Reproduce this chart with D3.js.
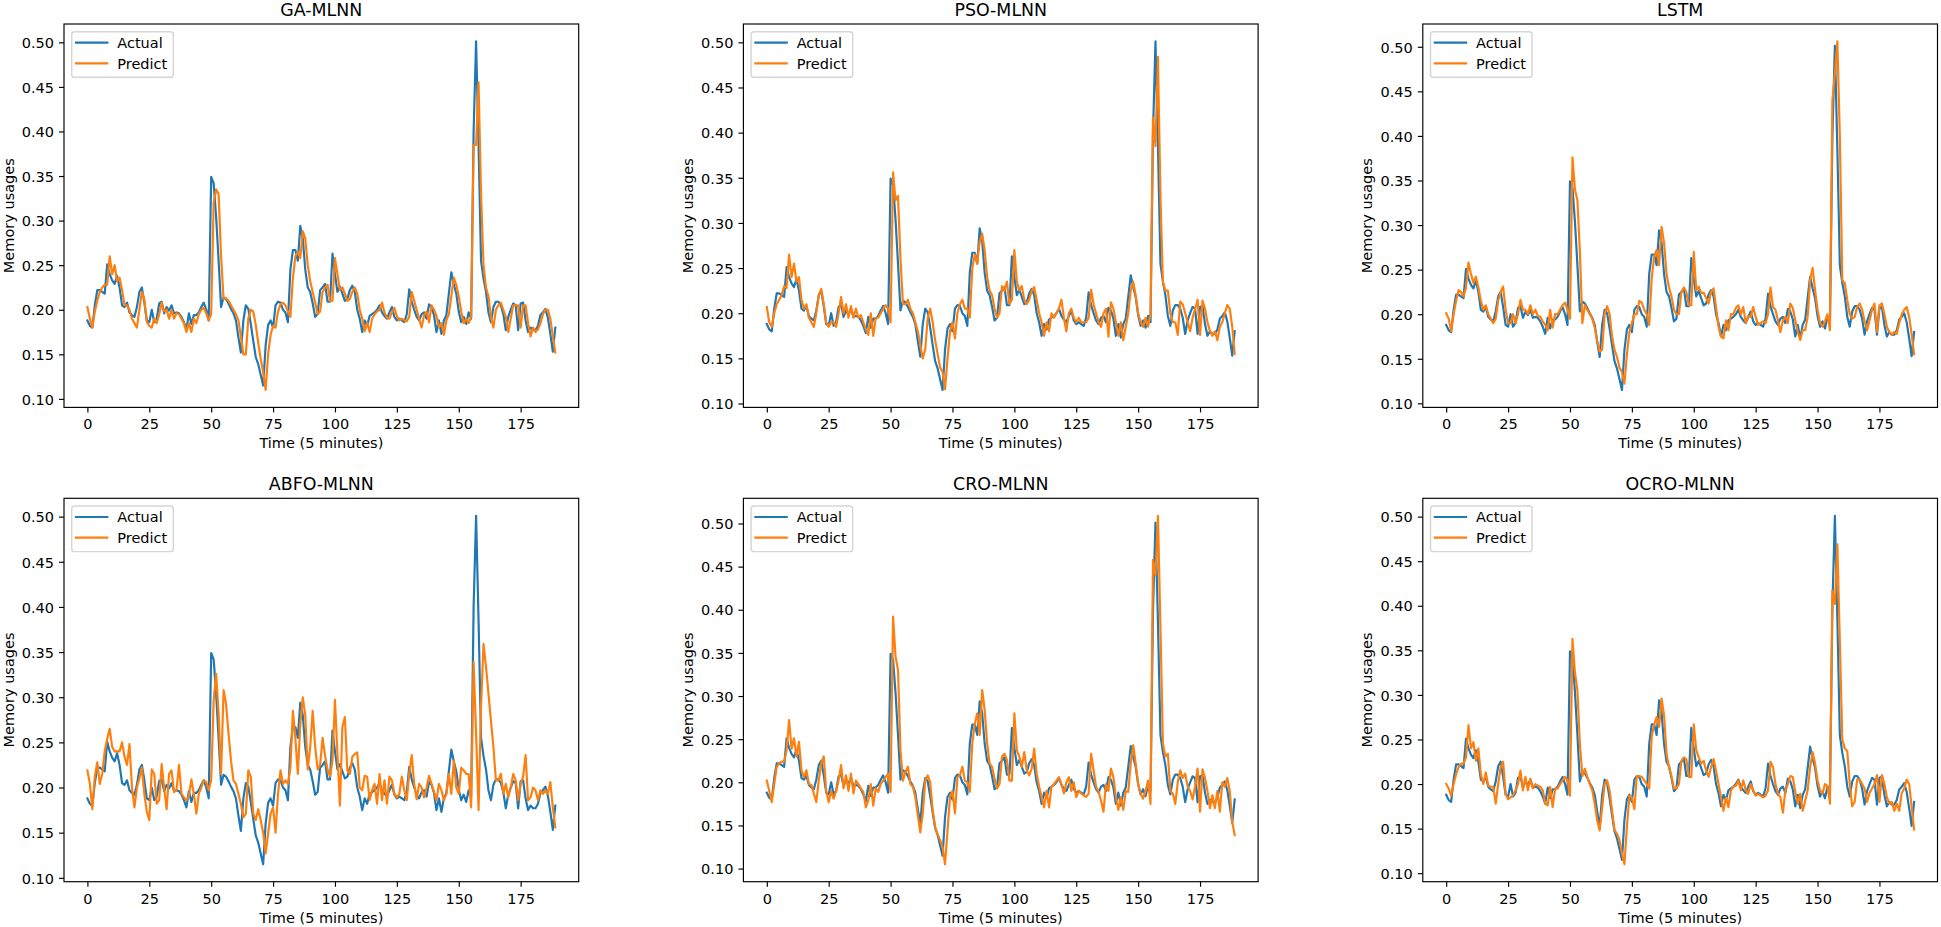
<!DOCTYPE html>
<html><head><meta charset="utf-8">
<script src="https://cdn.jsdelivr.net/npm/d3@7/dist/d3.min.js"></script>
<style>
body{margin:0;background:#fff}
svg{display:block}
text{font-family:"DejaVu Sans",sans-serif;fill:#000}
</style>
</head><body>
<script>
// ---------- data ----------
const actual=[
.188,.182,.180,.205,.222,.222,.220,.218,.251,.240,
.233,.229,.238,.225,.205,.203,.208,.197,.194,.192,
.203,.220,.225,.208,.188,.186,.200,.186,.190,.207,
.209,.196,.203,.199,.205,.196,.197,.196,.192,.186,
.178,.196,.184,.194,.194,.197,.203,.208,.200,.188,
.349,.342,.304,.255,.203,.214,.212,.207,.201,.196,
.188,.169,.152,.188,.205,.201,.184,.165,.147,.139,
.127,.115,.160,.183,.188,.180,.205,.209,.208,.200,
.197,.186,.245,.267,.267,.255,.294,.280,.245,.225,
.220,.207,.192,.195,.222,.225,.229,.209,.209,.263,
.240,.220,.226,.218,.210,.212,.222,.227,.220,.200,
.190,.175,.188,.182,.193,.195,.197,.200,.205,.197,
.193,.190,.197,.203,.192,.188,.190,.188,.186,.195,
.223,.209,.200,.192,.188,.195,.197,.190,.206,.203,
.194,.175,.188,.173,.188,.194,.218,.242,.229,.218,
.198,.186,.192,.184,.197,.190,.400,.501,.385,.255,
.235,.220,.197,.186,.203,.209,.209,.205,.195,.177,
.192,.200,.207,.205,.177,.207,.208,.188,.175,.180,
.177,.177,.182,.194,.197,.201,.191,.173,.153,.180];

const gaPredict=[
.203,.190,.180,.198,.210,.220,.225,.228,.228,.260,
.240,.250,.232,.236,.222,.205,.205,.200,.190,.185,
.180,.200,.220,.212,.186,.182,.180,.190,.185,.195,
.208,.198,.200,.190,.200,.190,.196,.195,.190,.185,
.175,.185,.175,.190,.185,.195,.200,.202,.196,.188,
.195,.320,.335,.330,.260,.212,.213,.210,.205,.200,
.195,.188,.170,.150,.150,.190,.200,.198,.183,.163,
.145,.130,.110,.150,.172,.182,.180,.198,.206,.208,
.205,.198,.192,.235,.260,.265,.258,.288,.280,.250,
.232,.220,.208,.195,.198,.220,.225,.228,.210,.210,
.258,.240,.222,.225,.218,.210,.212,.220,.225,.218,
.200,.190,.176,.185,.175,.190,.195,.198,.200,.208,
.197,.191,.190,.197,.202,.193,.188,.190,.188,.187,
.192,.220,.210,.200,.190,.180,.194,.198,.186,.205,
.200,.193,.180,.185,.172,.188,.195,.215,.236,.228,
.215,.198,.185,.190,.185,.192,.385,.385,.455,.330,
.250,.225,.215,.192,.180,.200,.205,.208,.200,.192,
.175,.190,.205,.205,.205,.180,.205,.205,.185,.170,
.180,.175,.178,.185,.195,.200,.200,.190,.170,.152];

const psoPredict=[
.207,.190,.185,.200,.210,.215,.220,.230,.228,.265,
.240,.255,.235,.240,.215,.205,.210,.195,.190,.185,
.200,.220,.227,.210,.190,.185,.190,.190,.185,.200,
.218,.200,.210,.195,.208,.195,.205,.195,.198,.190,
.182,.176,.200,.175,.195,.195,.200,.205,.209,.205,
.190,.356,.325,.330,.260,.210,.210,.215,.205,.200,
.190,.180,.165,.150,.160,.195,.205,.190,.170,.155,
.140,.135,.116,.150,.180,.190,.172,.200,.210,.215,
.205,.205,.195,.250,.265,.255,.279,.288,.270,.240,
.225,.220,.205,.195,.200,.230,.225,.235,.210,.215,
.270,.235,.225,.230,.215,.210,.215,.225,.229,.215,
.200,.190,.175,.190,.180,.200,.195,.200,.205,.215,
.195,.180,.200,.205,.195,.190,.195,.190,.190,.190,
.195,.226,.210,.200,.190,.185,.200,.205,.174,.212,
.205,.190,.175,.190,.170,.185,.200,.225,.235,.220,
.200,.190,.185,.195,.185,.200,.417,.385,.484,.330,
.235,.225,.225,.200,.190,.190,.176,.213,.210,.200,
.190,.180,.195,.205,.215,.176,.214,.205,.190,.180,
.175,.180,.170,.185,.190,.200,.209,.205,.185,.155];

const lstmPredict=[
.201,.195,.181,.200,.215,.227,.225,.220,.230,.258,
.245,.235,.242,.230,.215,.205,.210,.200,.195,.190,
.195,.215,.225,.231,.205,.190,.190,.200,.190,.200,
.216,.205,.205,.200,.210,.200,.205,.198,.197,.192,
.188,.182,.205,.185,.200,.200,.205,.210,.213,.205,
.195,.376,.340,.328,.270,.190,.210,.205,.200,.195,
.185,.170,.158,.160,.200,.209,.200,.175,.160,.152,
.140,.135,.122,.155,.180,.190,.200,.200,.215,.213,
.205,.200,.188,.240,.265,.272,.255,.298,.280,.245,
.230,.220,.205,.200,.200,.225,.230,.225,.210,.210,
.270,.227,.231,.224,.224,.218,.212,.225,.229,.208,
.186,.175,.173,.193,.182,.200,.200,.207,.210,.200,
.208,.190,.198,.197,.208,.197,.188,.190,.192,.190,
.200,.230,.208,.205,.193,.180,.193,.197,.190,.212,
.207,.193,.180,.171,.182,.182,.197,.238,.252,.227,
.205,.190,.186,.192,.200,.182,.440,.470,.506,.400,
.238,.235,.216,.200,.195,.197,.208,.212,.205,.192,
.182,.193,.205,.212,.180,.210,.212,.200,.186,.180,
.177,.180,.178,.190,.200,.205,.208,.197,.178,.155];

const abfoPredict=[
.219,.204,.176,.212,.228,.204,.215,.240,.254,.265,
.245,.240,.240,.240,.250,.234,.225,.248,.200,.178,
.200,.210,.222,.193,.173,.164,.220,.215,.182,.186,
.226,.200,.176,.215,.219,.195,.197,.225,.193,.189,
.186,.191,.209,.193,.171,.193,.200,.208,.206,.197,
.208,.296,.326,.282,.215,.308,.293,.260,.230,.208,
.204,.193,.182,.167,.171,.219,.212,.171,.164,.176,
.164,.150,.127,.149,.171,.178,.150,.193,.219,.204,
.208,.204,.222,.285,.255,.215,.270,.300,.280,.220,
.245,.285,.245,.220,.225,.255,.235,.220,.212,.230,
.297,.237,.180,.267,.278,.219,.215,.234,.237,.239,
.200,.197,.213,.212,.186,.197,.204,.182,.215,.186,
.208,.182,.212,.208,.193,.189,.193,.212,.197,.186,
.215,.236,.204,.187,.204,.200,.189,.200,.213,.204,
.195,.186,.204,.197,.186,.193,.215,.193,.230,.200,
.193,.222,.219,.215,.215,.178,.339,.260,.175,.289,
.359,.334,.304,.274,.245,.208,.208,.215,.193,.204,
.189,.200,.215,.208,.186,.204,.212,.236,.186,.189,
.200,.197,.186,.197,.193,.197,.193,.206,.178,.156];

const croPredict=[
.202,.190,.177,.198,.218,.222,.224,.224,.237,.272,
.239,.251,.230,.247,.214,.206,.214,.198,.197,.187,
.177,.202,.222,.230,.190,.177,.190,.181,.190,.202,
.220,.193,.208,.190,.210,.187,.202,.198,.193,.189,
.171,.179,.198,.173,.193,.189,.198,.202,.206,.210,
.189,.392,.346,.330,.237,.202,.212,.218,.198,.195,
.183,.162,.142,.164,.202,.208,.200,.168,.148,.140,
.133,.125,.105,.144,.183,.190,.164,.206,.208,.218,
.202,.200,.189,.245,.268,.280,.255,.307,.284,.245,
.222,.218,.204,.193,.198,.230,.233,.226,.202,.202,
.280,.237,.230,.218,.235,.214,.208,.216,.239,.210,
.195,.183,.171,.190,.171,.195,.198,.202,.206,.198,
.187,.200,.206,.190,.200,.183,.190,.187,.185,.183,
.187,.233,.214,.195,.189,.179,.166,.198,.190,.216,
.206,.183,.168,.183,.168,.190,.189,.222,.243,.222,
.198,.187,.181,.190,.202,.175,.458,.440,.509,.380,
.245,.230,.233,.190,.187,.175,.200,.214,.205,.210,
.195,.190,.180,.195,.216,.166,.215,.205,.190,.170,
.185,.170,.190,.166,.200,.195,.205,.190,.154,.139];

const ocroPredict=[
.200,.195,.187,.200,.211,.219,.223,.223,.230,.266,
.240,.247,.226,.240,.211,.200,.213,.198,.197,.197,
.178,.200,.219,.225,.189,.183,.185,.187,.193,.200,
.215,.193,.208,.193,.206,.195,.200,.198,.197,.193,
.178,.176,.197,.174,.195,.195,.200,.204,.208,.204,
.187,.363,.325,.305,.245,.209,.217,.208,.200,.193,
.178,.159,.148,.174,.200,.204,.193,.170,.148,.144,
.137,.122,.110,.152,.187,.185,.172,.209,.209,.208,
.204,.200,.195,.253,.267,.275,.264,.296,.277,.234,
.219,.209,.195,.195,.200,.226,.230,.228,.208,.208,
.267,.238,.230,.223,.226,.215,.208,.219,.228,.215,
.200,.185,.170,.185,.174,.193,.197,.198,.204,.193,
.204,.193,.189,.200,.193,.187,.189,.187,.185,.187,
.193,.225,.219,.200,.189,.185,.168,.193,.200,.209,
.208,.191,.178,.189,.170,.181,.193,.219,.236,.223,
.204,.193,.189,.200,.198,.178,.417,.402,.469,.360,
.250,.240,.237,.200,.175,.180,.205,.205,.200,.195,
.180,.190,.195,.200,.210,.180,.210,.200,.185,.178,
.180,.170,.178,.170,.190,.195,.205,.200,.175,.149];

const titles=["GA-MLNN","PSO-MLNN","LSTM","ABFO-MLNN","CRO-MLNN","OCRO-MLNN"];
const predictions=[gaPredict,psoPredict,lstmPredict,abfoPredict,croPredict,ocroPredict];
const seriesNames=["Actual","Predict"];
const xTickValues=[0,25,50,75,100,125,150,175];
const xLabel="Time (5 minutes)";
const yLabel="Memory usages";

// ---------- layout / style ----------
const W=1941,H=927;
const colLeft=[64,743.4,1422.8], rowTop=[24,498.3];
const pw=514.7, ph=383.4;
const colors=["#1f77b4","#ff7f0e"];
const fs=14.5, titleFs=17.4, lw=2.17, spineW=1.16;

const svg=d3.select("body").append("svg").attr("width",W).attr("height",H);
svg.append("rect").attr("width",W).attr("height",H).attr("fill","#fff");

titles.forEach((title,k)=>{
  const left=colLeft[k%3], top=rowTop[Math.floor(k/3)];
  const pred=predictions[k];
  const n=actual.length;
  const x=d3.scaleLinear().domain([-(n-1)*0.05,(n-1)*1.05]).range([0,pw]);
  const all=actual.concat(pred);
  const mn=d3.min(all), mx=d3.max(all), r=mx-mn;
  const y=d3.scaleLinear().domain([mn-0.05*r,mx+0.05*r]).range([ph,0]);
  const yTicks=d3.range(Math.ceil((mn-0.05*r)/0.05-1e-9),Math.floor((mx+0.05*r)/0.05+1e-9)+1).map(v=>+(v*0.05).toFixed(2));

  const g=svg.append("g").attr("transform",`translate(${left},${top})`);

  // axes
  const xa=g.append("g").attr("transform",`translate(0,${ph})`)
    .call(d3.axisBottom(x).tickValues(xTickValues).tickSize(5).tickPadding(5).tickSizeOuter(0));
  const ya=g.append("g")
    .call(d3.axisLeft(y).tickValues(yTicks).tickFormat(d3.format(".2f")).tickSize(5).tickPadding(5).tickSizeOuter(0));
  [xa,ya].forEach(a=>{
    a.select(".domain").remove();
    a.selectAll("line").attr("stroke","#000").attr("stroke-width",spineW);
    a.selectAll("text").attr("font-size",fs).attr("font-family","DejaVu Sans").attr("fill","#000");
  });
  xa.selectAll("text").attr("dy","0.83em");
  ya.selectAll("text").attr("dy","0.36em");

  // lines
  const line=d3.line().x((d,i)=>x(i)).y(d=>y(d));
  [actual,pred].forEach((s,j)=>{
    g.append("path").datum(s).attr("d",line).attr("fill","none")
     .attr("stroke",colors[j]).attr("stroke-width",lw)
     .attr("stroke-linejoin","round").attr("stroke-linecap","square");
  });

  // frame
  g.append("rect").attr("width",pw).attr("height",ph).attr("fill","none")
   .attr("stroke","#000").attr("stroke-width",spineW);

  // title and labels
  g.append("text").attr("x",pw/2).attr("y",-8).attr("text-anchor","middle")
   .attr("font-size",titleFs).text(title);
  g.append("text").attr("x",pw/2).attr("y",ph+41).attr("text-anchor","middle")
   .attr("font-size",fs).text(xLabel);
  g.append("text").attr("transform",`translate(-50.5,${ph/2}) rotate(-90)`)
   .attr("text-anchor","middle").attr("font-size",fs).text(yLabel);

  // legend
  const lg=g.append("g").attr("transform","translate(7.7,7.7)");
  lg.append("rect").attr("width",101.6).attr("height",45.6).attr("rx",2.9)
    .attr("fill","#fff").attr("fill-opacity",0.8)
    .attr("stroke","#cccccc").attr("stroke-opacity",0.8).attr("stroke-width",1.45);
  seriesNames.forEach((nm,j)=>{
    const cy=11+j*20.6;
    lg.append("line").attr("x1",4.3).attr("x2",35.6).attr("y1",cy).attr("y2",cy)
      .attr("stroke",colors[j]).attr("stroke-width",lw).attr("stroke-linecap","square");
    lg.append("text").attr("x",45.6).attr("y",cy).attr("dy","0.36em")
      .attr("font-size",fs).text(nm);
  });
});
</script>
</body></html>
